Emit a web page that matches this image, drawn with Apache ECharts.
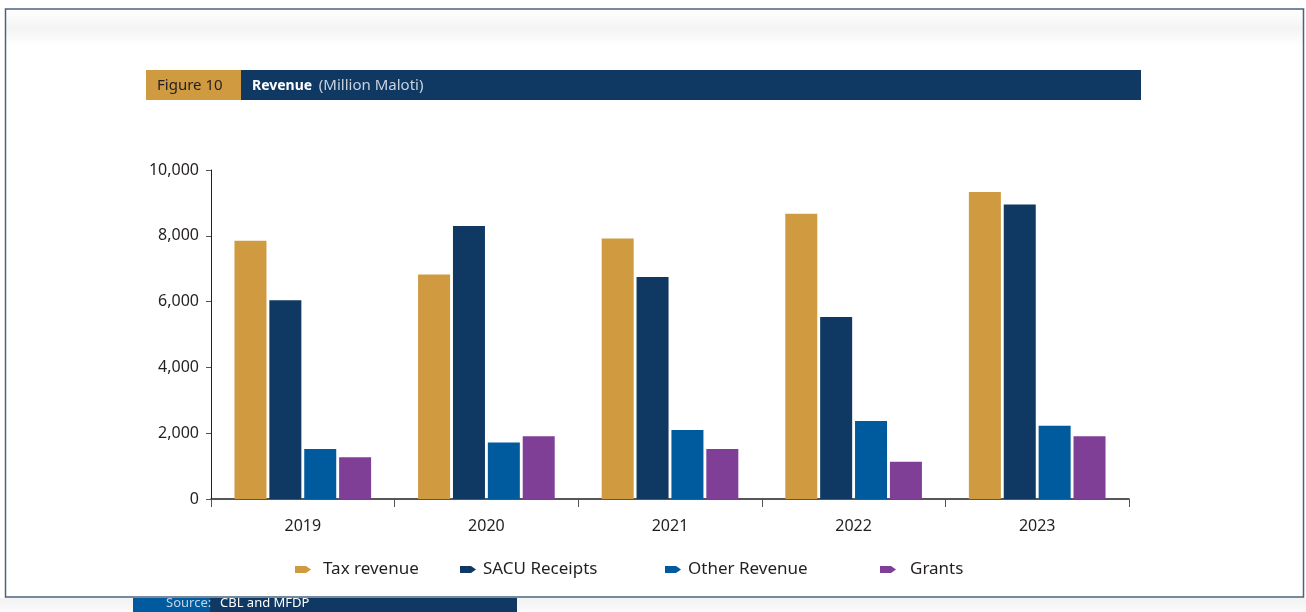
<!DOCTYPE html>
<html>
<head>
<meta charset="utf-8">
<script src="https://cdn.jsdelivr.net/npm/echarts@6/dist/echarts.min.js"></script>
<style>
  html, body { margin: 0; padding: 0; background: #ffffff; }
  #chart { width: 1306px; height: 612px; }
</style>
</head>
<body>
<div id="chart"></div>
<script>
// data (Million Maloti)
var years = ['2019', '2020', '2021', '2022', '2023'];
var taxRevenue = [7850, 6820, 7920, 8670, 9330];
var sacuReceipts = [6040, 8300, 6750, 5530, 8950];
var otherRevenue = [1520, 1720, 2100, 2370, 2230];
var grants = [1270, 1910, 1520, 1130, 1910];
var yTicks = [0, 2000, 4000, 6000, 8000, 10000];

var seriesNames = ['Tax revenue', 'SACU Receipts', 'Other Revenue', 'Grants'];
var seriesColors = ['#CF9A40', '#0F3862', '#005A9E', '#7F3F97'];
var seriesData = [taxRevenue, sacuReceipts, otherRevenue, grants];

var font = '"Noto Sans", "Open Sans", sans-serif';
var pencil = 'path://M0,0 L11,0 L16,3.5 L11,7 L0,7 Z';

var chartDom = document.getElementById('chart');
var myChart = echarts.init(chartDom);

// each legend item sits on its own, spacing in the original is uneven
var legendLeft = [290, 455, 660, 875];
var legendPad = [7, 2, 2, 9];
var legends = seriesNames.map(function (name, i) {
  return {
    left: legendLeft[i],
    top: 556,
    data: [name],
    icon: pencil,
    itemWidth: 16,
    itemHeight: 7,
    selectedMode: false,
    textStyle: {
      fontFamily: font,
      fontSize: 17,
      color: '#231f20',
      padding: [0, 0, 0, legendPad[i]]
    }
  };
});

var series = seriesNames.map(function (name, i) {
  return {
    name: name,
    type: 'bar',
    data: seriesData[i],
    barWidth: 32,
    barGap: '9%',
    itemStyle: { color: seriesColors[i] }
  };
});

var option = {
  animation: false,
  backgroundColor: '#ffffff',
  textStyle: { fontFamily: font },
  grid: { left: 211, right: 177, top: 170, bottom: 113 },
  legend: legends,
  xAxis: {
    type: 'category',
    data: years,
    axisLine: { lineStyle: { color: '#231f20', width: 1.5 } },
    axisTick: { show: true, length: 8, lineStyle: { color: '#555' } },
    axisLabel: { fontFamily: font, fontSize: 16, color: '#231f20', margin: 19 }
  },
  yAxis: {
    type: 'value',
    min: yTicks[0],
    max: yTicks[yTicks.length - 1],
    interval: 2000,
    axisLine: { show: true, lineStyle: { color: '#231f20', width: 1 } },
    axisTick: { show: true, length: 5, lineStyle: { color: '#555' } },
    splitLine: { show: false },
    axisLabel: {
      fontFamily: font,
      fontSize: 16,
      color: '#231f20',
      margin: 12,
      formatter: function (v) { return v.toLocaleString('en-US'); }
    }
  },
  graphic: [
    // faint shading inside the frame
    {
      type: 'rect', z: -10, silent: true,
      shape: { x: 6, y: 10, width: 1297, height: 36 },
      style: {
        fill: new echarts.graphic.LinearGradient(0, 0, 0, 1, [
          { offset: 0, color: '#ffffff' },
          { offset: 0.5, color: '#f4f4f4' },
          { offset: 1, color: '#ffffff' }
        ])
      }
    },
    {
      type: 'rect', z: -10, silent: true,
      shape: { x: 0, y: 598, width: 1306, height: 14 },
      style: {
        fill: new echarts.graphic.LinearGradient(0, 0, 0, 1, [
          { offset: 0, color: '#f2f2f2' },
          { offset: 1, color: '#fafafa' }
        ])
      }
    },
    // frame
    {
      type: 'rect', z: 1, silent: true,
      shape: { x: 5.5, y: 9, width: 1298, height: 588 },
      style: { fill: 'none', stroke: '#4b637d', lineWidth: 1.5 }
    },
    // title band
    {
      type: 'rect', silent: true,
      shape: { x: 146, y: 70, width: 95, height: 30 },
      style: { fill: '#CF9A40' }
    },
    {
      type: 'rect', silent: true,
      shape: { x: 241, y: 70, width: 900, height: 30 },
      style: { fill: '#0F3862' }
    },
    {
      type: 'text', silent: true, x: 157, y: 86,
      style: { text: 'Figure 10', fontFamily: font, fontSize: 15, fill: '#231f20', verticalAlign: 'middle' }
    },
    {
      type: 'text', silent: true, x: 252, y: 86,
      style: {
        text: '{b|Revenue}  {n|(Million Maloti)}',
        verticalAlign: 'middle',
        rich: {
          b: { fontFamily: font, fontSize: 14, fontWeight: 'bold', fill: '#ffffff', color: '#ffffff' },
          n: { fontFamily: font, fontSize: 15, fill: '#c9d3df', color: '#c9d3df' }
        }
      }
    },
    // source band
    {
      type: 'rect', silent: true,
      shape: { x: 133, y: 598, width: 77, height: 14 },
      style: { fill: '#005A9E' }
    },
    {
      type: 'rect', silent: true,
      shape: { x: 210, y: 598, width: 307, height: 14 },
      style: { fill: '#0F3862' }
    },
    {
      type: 'text', left: 166, top: 597, silent: true,
      style: { text: 'Source:', fontFamily: font, fontSize: 13, fill: '#c5d4e6' }
    },
    {
      type: 'text', left: 220, top: 597, silent: true,
      style: { text: 'CBL and MFDP', fontFamily: font, fontSize: 13, fill: '#ffffff' }
    }
  ],
  series: series
};

myChart.setOption(option);
</script>
</body>
</html>
